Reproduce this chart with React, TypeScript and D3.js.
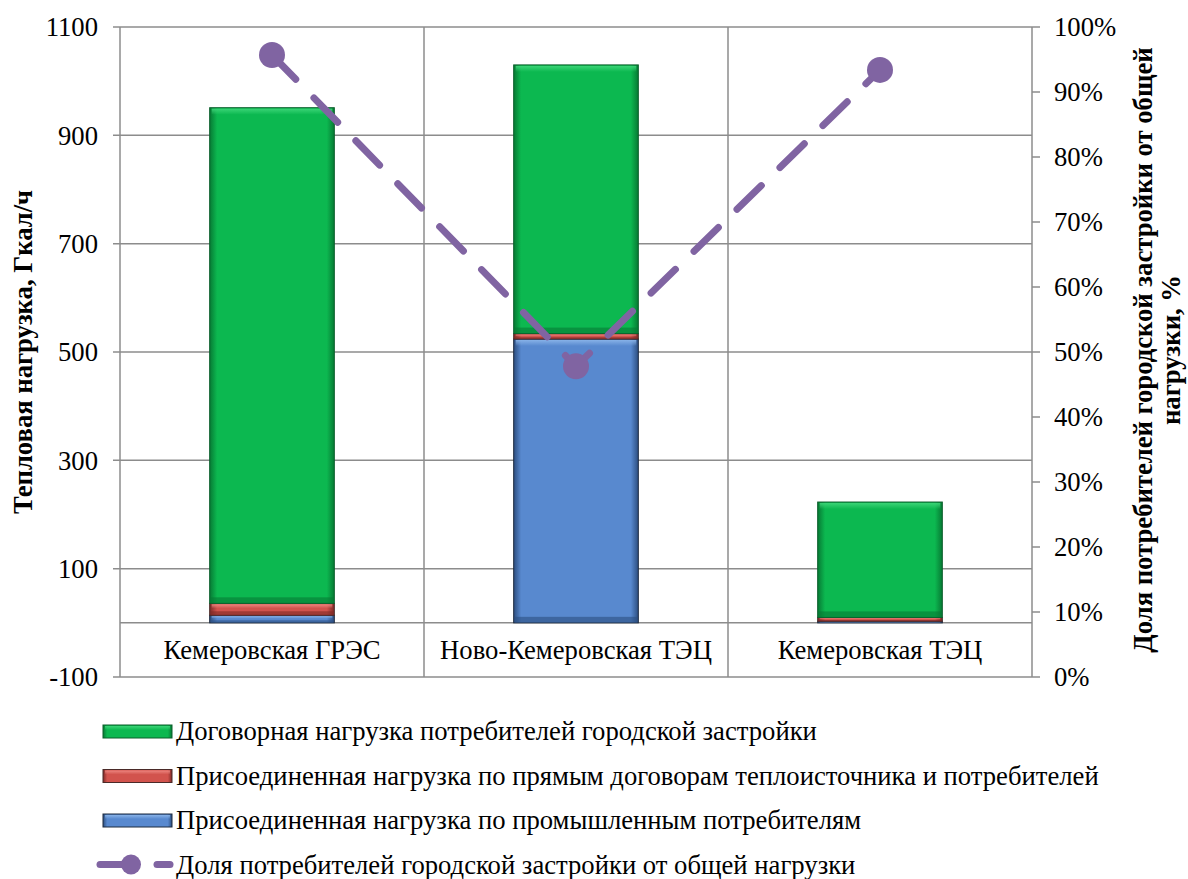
import React from "react";
import * as d3 from "d3";

const categories = ["Кемеровская ГРЭС", "Ново-Кемеровская ТЭЦ", "Кемеровская ТЭЦ"];
const industrial = [14, 524, 3];
const directContracts = [22, 10, 7];
const cityContracts = [915, 496, 213];
const cityShare = [0.957, 0.478, 0.934];

const leftTicks = [-100, 100, 300, 500, 700, 900, 1100];
const rightTicks = [0, 0.1, 0.2, 0.3, 0.4, 0.5, 0.6, 0.7, 0.8, 0.9, 1];

const seriesNames = [
  "Договорная нагрузка потребителей городской застройки",
  "Присоединенная нагрузка по прямым договорам теплоисточника и потребителей",
  "Присоединенная нагрузка по промышленным потребителям",
  "Доля потребителей городской застройки от общей нагрузки",
];

const W = 1188;
const H = 879;
const left = 120;
const right = 1032;
const top = 27;
const bottom = 677;

const styles = [
  { id: "gCity", main: "#0cb850", light: "#3fd77a", dark: "#077a34", edge: "#0a5e2b" },
  { id: "gDirect", main: "#d2534d", light: "#ef8a84", dark: "#7e2a27", edge: "#4a2a28" },
  { id: "gInd", main: "#5889cf", light: "#8cb6ea", dark: "#2c4e80", edge: "#1d2a3f" },
];

const FONT = "Liberation Serif, Times New Roman, serif";
const FS = 26.67;

const App = () => {
  const x = d3.scaleBand<string>().domain(categories).range([left, right]).padding(0);
  const yL = d3.scaleLinear().domain([-100, 1100]).range([bottom, top]);
  const yR = d3.scaleLinear().domain([0, 1]).range([bottom, top]);
  const bw = x.bandwidth() * 0.41;
  const cx = (c: string) => (x(c) as number) + x.bandwidth() / 2;

  const stackData = categories.map((c, i) => ({
    cat: c,
    ind: industrial[i],
    dir: directContracts[i],
    city: cityContracts[i],
  }));
  const stack = d3.stack<any>().keys(["ind", "dir", "city"])(stackData);
  const styleByKey: Record<string, any> = { ind: styles[2], dir: styles[1], city: styles[0] };

  const line = d3
    .line<number>()
    .x((_, i) => cx(categories[i]))
    .y((d) => yR(d));

  return (
    <svg
      width={W}
      height={H}
      fontFamily={FONT}
      style={{ position: "absolute", left: 0, top: 0, background: "#fff" }}
    >
      <defs>
        {styles.map((s) => (
          <linearGradient key={s.id} id={s.id} x1="0" x2="1" y1="0" y2="0">
            <stop offset="0" stopColor={s.dark} />
            <stop offset="0.06" stopColor={s.main} />
            <stop offset="0.94" stopColor={s.main} />
            <stop offset="1" stopColor={s.dark} />
          </linearGradient>
        ))}
        {styles.map((s) => (
          <linearGradient key={s.id + "v"} id={s.id + "v"} x1="0" x2="0" y1="0" y2="1">
            <stop offset="0" stopColor={s.light} stopOpacity="0.9" />
            <stop offset="1" stopColor={s.light} stopOpacity="0" />
          </linearGradient>
        ))}
      </defs>

      {/* horizontal gridlines */}
      {leftTicks.slice(1).map((t) => (
        <line key={t} x1={left - 7} x2={right} y1={yL(t)} y2={yL(t)} stroke="#8c8c8c" strokeWidth={1.5} />
      ))}
      <line x1={left} x2={right} y1={yL(0)} y2={yL(0)} stroke="#8c8c8c" strokeWidth={1.5} />
      <line x1={left - 7} x2={right} y1={bottom} y2={bottom} stroke="#8c8c8c" strokeWidth={1.5} />
      {/* vertical dividers */}
      {[left, ...categories.map((c) => (x(c) as number) + x.bandwidth())].map((v, i) => (
        <line key={i} x1={v} x2={v} y1={top} y2={bottom} stroke="#8c8c8c" strokeWidth={1.5} />
      ))}
      {/* right ticks */}
      {rightTicks.map((t) => (
        <line key={t} x1={right} x2={right + 8} y1={yR(t)} y2={yR(t)} stroke="#8c8c8c" strokeWidth={1.5} />
      ))}

      {/* left tick labels */}
      {leftTicks.map((t) => (
        <text key={t} x={left - 22} y={yL(t)} dy="0.35em" textAnchor="end" fontSize={FS} fontFamily={FONT} fill="#000">
          {t}
        </text>
      ))}
      {/* right tick labels */}
      {rightTicks.map((t) => (
        <text key={t} x={right + 22} y={yR(t)} dy="0.35em" textAnchor="start" fontSize={FS} fontFamily={FONT} fill="#000">
          {Math.round(t * 100)}%
        </text>
      ))}
      {/* category labels */}
      {categories.map((c) => (
        <text key={c} x={cx(c)} y={(yL(0) + bottom) / 2} dy="0.35em" textAnchor="middle" fontSize={FS} fontFamily={FONT} fill="#000">
          {c}
        </text>
      ))}

      {/* bars */}
      {stack.map((layer) => {
        const s = styleByKey[layer.key];
        return layer.map((d, i) => {
          const c = categories[i];
          const x0 = cx(c) - bw / 2;
          const y0 = yL(d[1]);
          const h = yL(d[0]) - yL(d[1]);
          if (h <= 0) return null;
          const bev = Math.min(6, h / 3);
          return (
            <g key={layer.key + i}>
              <rect x={x0} y={y0} width={bw} height={h} fill={`url(#${s.id})`} stroke={s.edge} strokeWidth={1} />
              <rect x={x0 + 2} y={y0 + 1} width={bw - 4} height={bev} fill={`url(#${s.id}v)`} />
              <rect x={x0 + 1} y={y0 + h - bev} width={bw - 2} height={bev} fill={s.dark} opacity={0.6} />
            </g>
          );
        });
      })}

      {/* share line */}
      <path
        d={line(cityShare) || ""}
        fill="none"
        stroke="#8064a2"
        strokeWidth={7}
        strokeDasharray="34 26"
        strokeLinecap="round"
      />
      {cityShare.map((v, i) => (
        <circle key={i} cx={cx(categories[i])} cy={yR(v)} r={13} fill="#8064a2" />
      ))}

      {/* axis titles */}
      <text
        transform={`translate(32,352) rotate(-90)`}
        textAnchor="middle"
        fontSize={FS}
        fontWeight="bold"
        fontFamily={FONT}
        fill="#000"
      >
        Тепловая нагрузка, Гкал/ч
      </text>
      <text
        transform={`translate(1152,350) rotate(-90)`}
        textAnchor="middle"
        fontSize={FS}
        fontWeight="bold"
        fontFamily={FONT}
        fill="#000"
      >
        <tspan x={0} dy={0}>Доля потребителей городской застройки от общей</tspan>
        <tspan x={0} dy={28}>нагрузки, %</tspan>
      </text>

      {/* legend */}
      {seriesNames.map((n, i) => {
        const ly = 731 + i * 44.5;
        return (
          <g key={n}>
            {i < 3 ? (
              <g>
                <rect x={103} y={ly - 6} width={69} height={13} fill={`url(#${styles[i].id})`} stroke={styles[i].edge} strokeWidth={1} />
                <rect x={105} y={ly - 5} width={65} height={4} fill={`url(#${styles[i].id}v)`} />
              </g>
            ) : (
              <g>
                <line x1={100} x2={130} y1={ly} y2={ly} stroke="#8064a2" strokeWidth={7} strokeLinecap="round" />
                <circle cx={131} cy={ly} r={10} fill="#8064a2" />
                <line x1={157} x2={170} y1={ly} y2={ly} stroke="#8064a2" strokeWidth={7} strokeLinecap="round" />
              </g>
            )}
            <text x={176} y={ly} dy="0.35em" fontSize={FS} fontFamily={FONT} fill="#000">
              {n}
            </text>
          </g>
        );
      })}
    </svg>
  );
};

export default App;
